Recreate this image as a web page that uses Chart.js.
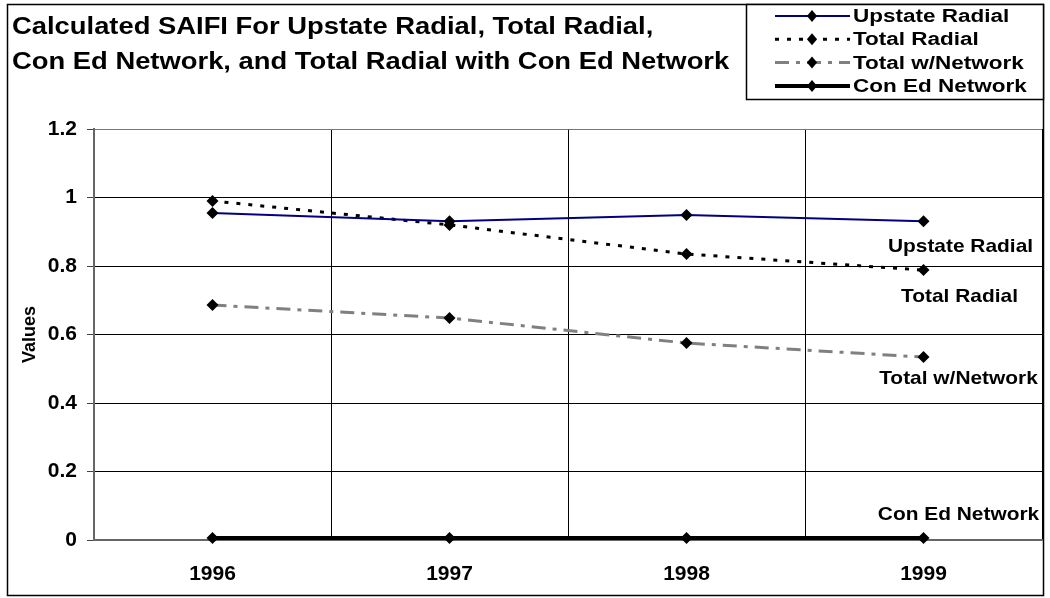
<!DOCTYPE html>
<html>
<head>
<meta charset="utf-8">
<script src="https://cdn.jsdelivr.net/npm/chart.js@4.4.1/dist/chart.umd.min.js"></script>
<style>
  html, body { margin: 0; padding: 0; background: #fff; }
  #wrap { width: 1050px; height: 598px; }
</style>
</head>
<body>
<div id="wrap"><canvas id="saifiChart" width="1050" height="598"></canvas></div>
<script>
// data
const years = ['1996', '1997', '1998', '1999'];
const upstateRadial = [0.955, 0.931, 0.949, 0.931];
const totalRadial = [0.990, 0.920, 0.835, 0.788];
const totalWithNetwork = [0.686, 0.648, 0.575, 0.534];
const conEdNetwork = [0.006, 0.006, 0.006, 0.006];
const seriesNames = ['Upstate Radial', 'Total Radial', 'Total w/Network', 'Con Ed Network'];
const titleLines = ['Calculated SAIFI For Upstate Radial, Total Radial,', 'Con Ed Network, and Total Radial with Con Ed Network'];
const yTicks = [0, 0.2, 0.4, 0.6, 0.8, 1, 1.2];

const FONT = '"Liberation Sans", Arial, sans-serif';

// text a bit wider than the font, like the original
function wideText(c, txt, x, y, sx, align) {
    c.save();
    c.translate(x, y);
    c.scale(sx, 1);
    c.textAlign = align;
    c.fillText(txt, 0, 0);
    c.restore();
}

// outer frame + title
const frameTitle = {
    id: 'frameTitle',
    beforeDraw(chart) {
        const c = chart.ctx;
        c.save();
        c.fillStyle = '#fff';
        c.fillRect(0, 0, chart.width, chart.height);
        c.strokeStyle = '#000';
        c.lineWidth = 1.5;
        c.strokeRect(7.5, 4.5, 1036, 591);
        c.fillStyle = '#000';
        c.font = 'bold 23px ' + FONT;
        c.textBaseline = 'middle';
        titleLines.forEach((t, i) => wideText(c, t, 12, 28 + i * 35, 1.19, 'left'));
        c.restore();
    }
};

function diamond(c, x, y, r) {
    c.beginPath();
    c.moveTo(x, y - r);
    c.lineTo(x + r * 0.85, y);
    c.lineTo(x, y + r);
    c.lineTo(x - r * 0.85, y);
    c.closePath();
    c.fill();
}

// legend box top right
const boxLegend = {
    id: 'boxLegend',
    afterDraw(chart) {
        const c = chart.ctx;
        c.save();
        c.fillStyle = '#fff';
        c.fillRect(746, 4, 298, 96);
        c.strokeStyle = '#000';
        c.lineWidth = 1.5;
        c.strokeRect(746.5, 4.5, 297, 95);
        chart.data.datasets.forEach((ds, i) => {
            const y = 16 + i * 23.3;
            c.strokeStyle = ds.borderColor;
            c.lineWidth = ds.borderWidth;
            c.setLineDash(ds.borderDash || []);
            c.beginPath();
            c.moveTo(775, y);
            c.lineTo(850, y);
            c.stroke();
            c.setLineDash([]);
            c.fillStyle = '#000';
            diamond(c, 812, y, 6);
            c.font = 'bold 18px ' + FONT;
            c.textBaseline = 'middle';
            wideText(c, ds.label, 853, y + 1, 1.25, 'left');
        });
        c.restore();
    }
};

// series name next to the last point
const seriesLabels = {
    id: 'seriesLabels',
    afterDatasetsDraw(chart, args, opts) {
        const c = chart.ctx;
        c.save();
        c.fillStyle = '#000';
        c.font = 'bold 19px ' + FONT;
        c.textBaseline = 'middle';
        chart.data.datasets.forEach((ds, i) => {
            const pts = chart.getDatasetMeta(i).data;
            const p = pts[pts.length - 1];
            const off = opts.offsets[i];
            wideText(c, ds.label, p.x + off[0], p.y + off[1], 1.1, 'center');
        });
        c.restore();
    }
};

const marker = { pointStyle: 'rectRot', pointRadius: 6, pointBackgroundColor: '#000', pointBorderColor: '#000', pointBorderWidth: 0 };

new Chart(document.getElementById('saifiChart'), {
    type: 'line',
    data: {
        labels: years,
        datasets: [
            Object.assign({ label: seriesNames[0], data: upstateRadial, borderColor: '#000080', borderWidth: 2 }, marker),
            Object.assign({ label: seriesNames[1], data: totalRadial, borderColor: '#000', borderWidth: 3, borderDash: [4, 8] }, marker),
            Object.assign({ label: seriesNames[2], data: totalWithNetwork, borderColor: '#808080', borderWidth: 3, borderDash: [14, 7, 4, 7] }, marker),
            Object.assign({ label: seriesNames[3], data: conEdNetwork, borderColor: '#000', borderWidth: 4 }, marker)
        ]
    },
    options: {
        responsive: false,
        animation: false,
        clip: false,
        layout: { padding: { left: 8, right: 8, top: 129, bottom: 4 } },
        plugins: {
            legend: { display: false },
            title: { display: false },
            tooltip: { enabled: false },
            seriesLabels: { offsets: [[37, 26], [36, 27], [35, 22], [35, -23]] }
        },
        scales: {
            x: {
                offset: true,
                grid: { offset: true, color: '#000', lineWidth: 1, drawTicks: false },
                border: { color: '#666', width: 2 },
                ticks: { color: '#000', font: { family: FONT, size: 21, weight: 'bold' }, padding: 22 },
                afterFit(s) { s.height = 54; }
            },
            y: {
                min: 0,
                max: 1.2,
                afterBuildTicks(s) { s.ticks = yTicks.map(v => ({ value: v })); },
                grid: { color: (ctx) => ctx.tick && ctx.tick.value === 1.2 ? '#777' : '#000', lineWidth: 1, tickLength: 7, tickColor: '#444' },
                border: { color: '#666', width: 2 },
                ticks: { color: '#000', font: { family: FONT, size: 21, weight: 'bold' }, padding: 10, callback: (v) => String(v) },
                title: { display: true, text: 'Values', color: '#000', font: { family: FONT, size: 18, weight: 'bold' }, padding: { top: 11, bottom: 0 } },
                afterFit(s) { s.width = 86; }
            }
        }
    },
    plugins: [frameTitle, seriesLabels, boxLegend]
});
</script>
</body>
</html>
